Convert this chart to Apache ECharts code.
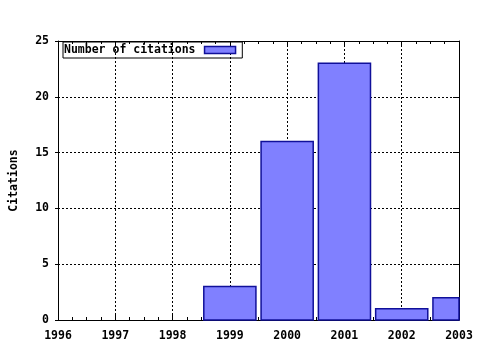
<!DOCTYPE html>
<html><head><meta charset="utf-8">
<script src="https://cdn.jsdelivr.net/npm/echarts@6/dist/echarts.min.js"></script>
<style>html,body{margin:0;padding:0;background:#fff}#c{width:480px;height:350px}</style>
</head><body><div id="c"></div>
<script>
const years = [1996, 1997, 1998, 1999, 2000, 2001, 2002, 2003];
const citations = [0, 0, 0, 3, 16, 23, 1, 2];
const yTicks = [0, 5, 10, 15, 20, 25];
const seriesName = 'Number of citations';
const yTitle = 'Citations';

const FONT = 'DejaVu Sans Mono';
const FILL = '#8080ff', EDGE = '#10109a';
const lbl = {fontFamily: FONT, fontWeight: 'bold', fontSize: 11.5, color: '#000'};
const grid = {show: true, lineStyle: {color: '#000', type: [2, 2], width: 1}};
const chart = echarts.init(document.getElementById('c'), null, {renderer: 'canvas'});

function renderBar(params, api) {
  const x = api.value(0), y = api.value(1);
  if (!isFinite(y) || y === 0) return null;
  const base = api.coord([x, 0]);
  const top = api.coord([x, y]);
  const w = api.size([0.91, 0])[0];
  const cs = params.coordSys;
  const shape = echarts.graphic.clipRectByRect(
    {x: base[0] - w / 2, y: top[1], width: w, height: base[1] - top[1]},
    {x: cs.x, y: cs.y, width: cs.width, height: cs.height}
  );
  if (!shape) return null;
  return {type: 'rect', shape: shape, style: {fill: FILL, stroke: EDGE, lineWidth: 1.5}};
}

chart.setOption({
  animation: false,
  backgroundColor: '#fff',
  grid: {left: 57, right: 21, top: 41, bottom: 30},
  legend: {
    left: 63, top: 42, align: 'right', orient: 'horizontal',
    padding: [2, 6, 2, 1], borderColor: '#000', borderWidth: 1,
    itemWidth: 31, itemHeight: 7, itemGap: 0,
    textStyle: Object.assign({}, lbl, {padding: [0, 4, 0, 0]}),
    data: [{name: seriesName, icon: 'rect', itemStyle: {color: FILL, borderColor: EDGE, borderWidth: 1.5}}]
  },
  xAxis: [{
    type: 'value', position: 'bottom',
    min: years[0], max: years[years.length - 1], interval: 1,
    axisLine: {show: true, lineStyle: {color: '#000', width: 1}},
    axisTick: {show: true, inside: true, length: 6, lineStyle: {color: '#000'}},
    minorTick: {show: true, splitNumber: 4, length: 3, lineStyle: {color: '#000'}},
    axisLabel: Object.assign({margin: 10, formatter: v => String(v)}, lbl),
    splitLine: grid
  }, {
    type: 'value', position: 'top',
    min: years[0], max: years[years.length - 1], interval: 1,
    axisLine: {show: true, onZero: false, lineStyle: {color: '#000', width: 1}},
    axisTick: {show: true, inside: true, length: 6, lineStyle: {color: '#000'}},
    minorTick: {show: true, splitNumber: 4, length: 3, lineStyle: {color: '#000'}},
    axisLabel: {show: false}, splitLine: {show: false}
  }],
  yAxis: [{
    type: 'value', position: 'left',
    min: yTicks[0], max: yTicks[yTicks.length - 1], interval: yTicks[1] - yTicks[0],
    name: yTitle, nameLocation: 'middle', nameGap: 38, nameRotate: 90,
    nameTextStyle: lbl,
    axisLine: {show: true, lineStyle: {color: '#000', width: 1}},
    axisTick: {show: true, inside: false, length: 3, lineStyle: {color: '#000'}},
    axisLabel: Object.assign({margin: 9}, lbl),
    splitLine: grid
  }, {
    type: 'value', position: 'right',
    min: yTicks[0], max: yTicks[yTicks.length - 1], interval: yTicks[1] - yTicks[0],
    axisLine: {show: true, onZero: false, lineStyle: {color: '#000', width: 1}},
    axisTick: {show: true, inside: true, length: 6, lineStyle: {color: '#000'}},
    axisLabel: {show: false}, splitLine: {show: false}
  }],
  series: [{
    name: seriesName, type: 'custom', xAxisIndex: 0, yAxisIndex: 0,
    renderItem: renderBar,
    itemStyle: {color: FILL, borderColor: EDGE, borderWidth: 1.5},
    encode: {x: 0, y: 1},
    data: years.map((y, i) => [y, citations[i]])
  }]
});
</script></body></html>
